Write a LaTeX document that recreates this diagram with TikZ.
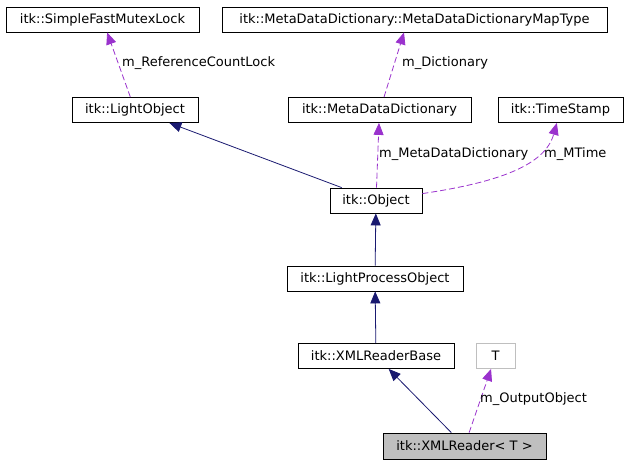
\documentclass[tikz,border=0pt]{standalone}
\usepackage{fontspec}
\setmainfont{DejaVu Sans}
\usetikzlibrary{arrows.meta}
\usepackage{xcolor}
\definecolor{myblue}{HTML}{191970}
\definecolor{mypurple}{HTML}{9A32CD}
\colorlet{mygray}{black!25}

\begin{document}
\begin{tikzpicture}[x=1pt, y=-1pt,
                    font=\fontsize{13}{15}\selectfont,
                    cls/.style={draw=black, line width=0.8pt, inner sep=0pt, minimum height=25pt},
                    inherit/.style={myblue, line width=0.8pt, -{Triangle[length=12pt,width=10pt]}},
                    member/.style={mypurple, line width=0.8pt, dash pattern=on 6pt off 3pt,
                                   -{Triangle[length=12pt,width=10pt]}},
                    lbl/.style={anchor=west, inner sep=0pt}]
  \useasboundingbox (0,0) rectangle (631,464);

  % classes
  \node[cls, minimum width=193pt] (mutex)    at (102.5,19.5) {itk::SimpleFastMutexLock};
  \node[cls, minimum width=385pt] (maptype)  at (414.5,19.5) {itk::MetaDataDictionary::MetaDataDictionaryMapType};
  \node[cls, minimum width=126pt] (lightobj) at (135,110)    {itk::LightObject};
  \node[cls, minimum width=183pt] (dict)     at (379.5,110)  {itk::MetaDataDictionary};
  \node[cls, minimum width=125pt] (stamp)    at (560.5,110)  {itk::TimeStamp};
  \node[cls, minimum width=92pt]  (object)   at (376,200.5)  {itk::Object};
  \node[cls, minimum width=176pt] (lpo)      at (375,278.5)  {itk::LightProcessObject};
  \node[cls, minimum width=156pt] (base)     at (376,356)    {itk::XMLReaderBase};
  \node[cls, draw=mygray, minimum width=39pt] (tparam) at (495.5,356) {T};
  \node[cls, fill=mygray, minimum width=163pt, minimum height=26pt] (reader) at (464.5,446) {itk::XMLReader< T >};

  % inheritance
  \draw[inherit] (object) -- (lightobj);
  \draw[inherit] (lpo) -- (object);
  \draw[inherit] (base) -- (lpo);
  \draw[inherit] (reader) -- (base);

  % members
  \draw[member] (lightobj) -- (mutex);
  \draw[member] (dict.north -| 384,0) -- (maptype.south -| 404,0);
  \draw[member] (object) -- (dict);
  \draw[member] (object) .. controls (500,182) and (545,165) .. (stamp);
  \draw[member] (reader) -- (tparam);

  % member names
  \node[lbl] (lockname)   at (122,63)  {m\_ReferenceCountLock};
  \node[lbl] (dictname)   at (402,63)  {m\_Dictionary};
  \node[lbl] (metaname)   at (379,154) {m\_MetaDataDictionary};
  \node[lbl] (timename)   at (544,154) {m\_MTime};
  \node[lbl] (outputname) at (480,399) {m\_OutputObject};
\end{tikzpicture}
\end{document}
